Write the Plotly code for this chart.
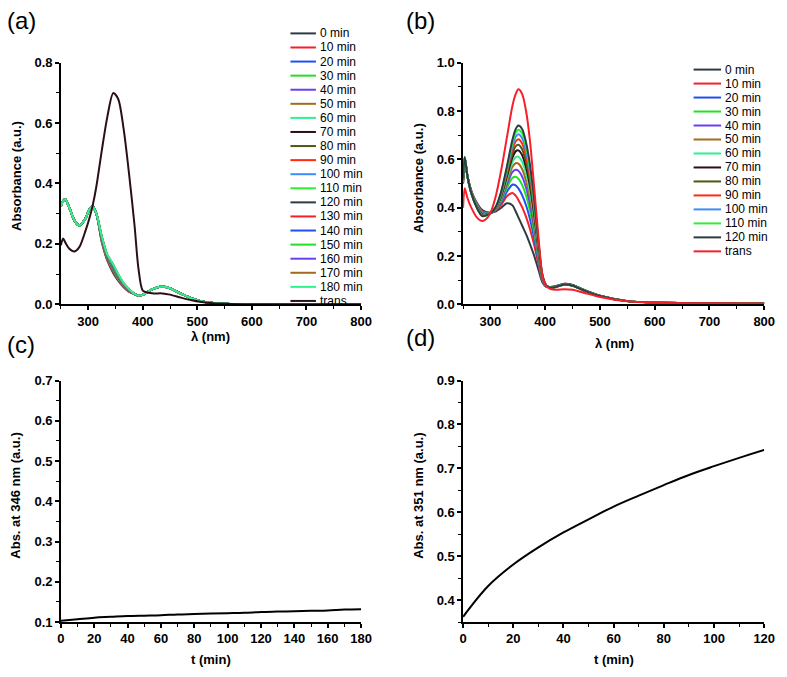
import plotly.graph_objects as go

W, H = 787, 677
FONT = "Liberation Sans, Arial, sans-serif"

# ---- panel (a): spectra during irradiation, 0-180 min ----
a_labels = ["0 min", "10 min", "20 min", "30 min", "40 min", "50 min", "60 min", "70 min",
            "80 min", "90 min", "100 min", "110 min", "120 min", "130 min", "140 min",
            "150 min", "160 min", "170 min", "180 min"]
a_wl = [250, 254, 258, 265, 275, 284, 295, 302, 308, 315, 325, 335, 346, 355, 365, 375,
        385, 392, 400, 410, 420, 436, 450, 470, 490, 505, 530, 560, 600, 700, 800]
# common part of the overlapping curves (250-315 nm and 385-800 nm)
a_head = [0.325, 0.342, 0.348, 0.322, 0.277, 0.261, 0.284, 0.313, 0.324, 0.300]
a_tail = [0.034, 0.029, 0.031, 0.042, 0.052, 0.059, 0.053, 0.035, 0.019, 0.011, 0.004,
          0.001, 0.0, 0.0, 0.0]
# 325-375 nm, where the curves separate slightly
a_mid = [
    [0.205, 0.145, 0.103, 0.078, 0.056, 0.041],
    [0.208, 0.148, 0.107, 0.081, 0.058, 0.042],
    [0.211, 0.151, 0.111, 0.084, 0.060, 0.044],
    [0.212, 0.152, 0.113, 0.085, 0.061, 0.044],
    [0.213, 0.153, 0.115, 0.087, 0.062, 0.045],
    [0.214, 0.154, 0.116, 0.088, 0.062, 0.045],
    [0.215, 0.155, 0.117, 0.089, 0.063, 0.045],
    [0.216, 0.156, 0.119, 0.090, 0.064, 0.046],
    [0.217, 0.157, 0.120, 0.091, 0.064, 0.046],
    [0.217, 0.157, 0.121, 0.092, 0.065, 0.047],
    [0.218, 0.158, 0.122, 0.093, 0.065, 0.047],
    [0.219, 0.159, 0.123, 0.093, 0.066, 0.047],
    [0.220, 0.160, 0.125, 0.095, 0.067, 0.048],
    [0.221, 0.161, 0.126, 0.095, 0.067, 0.048],
    [0.222, 0.162, 0.127, 0.096, 0.068, 0.048],
    [0.222, 0.162, 0.128, 0.097, 0.068, 0.049],
    [0.223, 0.163, 0.129, 0.098, 0.069, 0.049],
    [0.224, 0.164, 0.131, 0.099, 0.070, 0.050],
    [0.225, 0.165, 0.132, 0.100, 0.070, 0.050],
]
a_trans = [0.195, 0.218, 0.205, 0.185, 0.175, 0.190, 0.243, 0.283, 0.325, 0.390, 0.510,
           0.620, 0.700, 0.680, 0.580, 0.430, 0.260, 0.120, 0.045, 0.038, 0.036, 0.036,
           0.032, 0.022, 0.013, 0.008, 0.003, 0.001, 0.0, 0.0, 0.0]

# ---- panel (b): spectra during irradiation, 0-120 min ----
b_labels = ["0 min", "10 min", "20 min", "30 min", "40 min", "50 min", "60 min", "70 min",
            "80 min", "90 min", "100 min", "110 min", "120 min"]
b_wl = [250, 253, 258, 265, 275, 285, 295, 302, 310, 320, 330, 340, 346, 351, 358, 365,
        372, 380, 388, 395, 402, 410, 420, 435, 450, 470, 500, 550, 600, 700, 800]
b_abs = [
    [0.500, 0.600, 0.53, 0.470, 0.420, 0.390, 0.380, 0.38, 0.385, 0.400, 0.418, 0.410, 0.385, 0.360, 0.325, 0.290, 0.250, 0.200, 0.140, 0.090, 0.072, 0.072, 0.076, 0.085, 0.080, 0.060, 0.035, 0.013, 0.007, 0.004, 0.003],
    [0.500, 0.600, 0.53, 0.470, 0.416, 0.385, 0.380, 0.38, 0.389, 0.413, 0.447, 0.461, 0.450, 0.432, 0.401, 0.362, 0.313, 0.244, 0.161, 0.096, 0.073, 0.071, 0.075, 0.085, 0.080, 0.060, 0.035, 0.013, 0.007, 0.004, 0.003],
    [0.505, 0.600, 0.53, 0.468, 0.414, 0.382, 0.378, 0.38, 0.391, 0.422, 0.466, 0.495, 0.492, 0.480, 0.451, 0.410, 0.354, 0.272, 0.175, 0.099, 0.074, 0.071, 0.075, 0.084, 0.079, 0.060, 0.035, 0.013, 0.007, 0.004, 0.003],
    [0.505, 0.603, 0.53, 0.466, 0.412, 0.380, 0.376, 0.38, 0.393, 0.429, 0.482, 0.523, 0.528, 0.520, 0.493, 0.450, 0.389, 0.297, 0.186, 0.103, 0.075, 0.070, 0.074, 0.084, 0.079, 0.059, 0.035, 0.013, 0.007, 0.004, 0.003],
    [0.510, 0.605, 0.53, 0.465, 0.410, 0.377, 0.375, 0.38, 0.395, 0.435, 0.495, 0.547, 0.557, 0.553, 0.528, 0.483, 0.417, 0.317, 0.196, 0.105, 0.075, 0.070, 0.074, 0.084, 0.079, 0.059, 0.035, 0.013, 0.007, 0.004, 0.003],
    [0.510, 0.605, 0.53, 0.464, 0.408, 0.375, 0.374, 0.38, 0.397, 0.441, 0.507, 0.568, 0.584, 0.582, 0.559, 0.512, 0.443, 0.335, 0.204, 0.108, 0.076, 0.070, 0.073, 0.083, 0.078, 0.059, 0.034, 0.013, 0.007, 0.004, 0.003],
    [0.512, 0.607, 0.53, 0.463, 0.407, 0.374, 0.373, 0.38, 0.398, 0.446, 0.518, 0.588, 0.609, 0.611, 0.589, 0.541, 0.468, 0.352, 0.213, 0.110, 0.076, 0.069, 0.073, 0.083, 0.078, 0.059, 0.034, 0.013, 0.007, 0.004, 0.003],
    [0.514, 0.607, 0.53, 0.462, 0.405, 0.372, 0.372, 0.38, 0.400, 0.451, 0.529, 0.607, 0.633, 0.637, 0.617, 0.567, 0.491, 0.368, 0.220, 0.112, 0.077, 0.069, 0.073, 0.083, 0.078, 0.058, 0.034, 0.013, 0.007, 0.004, 0.003],
    [0.515, 0.608, 0.53, 0.462, 0.404, 0.370, 0.372, 0.38, 0.401, 0.455, 0.538, 0.623, 0.654, 0.660, 0.641, 0.590, 0.511, 0.382, 0.227, 0.114, 0.077, 0.069, 0.073, 0.083, 0.078, 0.058, 0.034, 0.013, 0.007, 0.004, 0.003],
    [0.516, 0.608, 0.53, 0.461, 0.403, 0.369, 0.371, 0.38, 0.402, 0.460, 0.547, 0.640, 0.674, 0.683, 0.665, 0.613, 0.531, 0.396, 0.234, 0.116, 0.077, 0.068, 0.072, 0.082, 0.077, 0.058, 0.034, 0.013, 0.007, 0.004, 0.003],
    [0.518, 0.609, 0.53, 0.461, 0.402, 0.367, 0.371, 0.38, 0.403, 0.463, 0.556, 0.654, 0.693, 0.704, 0.687, 0.634, 0.549, 0.408, 0.240, 0.117, 0.078, 0.068, 0.072, 0.082, 0.077, 0.058, 0.034, 0.013, 0.007, 0.004, 0.003],
    [0.519, 0.610, 0.53, 0.460, 0.401, 0.366, 0.370, 0.38, 0.404, 0.467, 0.563, 0.668, 0.710, 0.723, 0.707, 0.653, 0.565, 0.420, 0.245, 0.119, 0.078, 0.068, 0.072, 0.082, 0.077, 0.058, 0.034, 0.013, 0.007, 0.004, 0.003],
    [0.520, 0.610, 0.53, 0.460, 0.400, 0.365, 0.370, 0.38, 0.405, 0.470, 0.570, 0.680, 0.725, 0.740, 0.725, 0.670, 0.580, 0.430, 0.250, 0.120, 0.078, 0.068, 0.072, 0.082, 0.077, 0.058, 0.034, 0.013, 0.007, 0.004, 0.003],
]
b_trans = [0.40, 0.48, 0.44, 0.40, 0.36, 0.345, 0.36, 0.39, 0.45, 0.56, 0.69, 0.82, 0.87, 0.89,
           0.87, 0.80, 0.68, 0.48, 0.27, 0.12, 0.075, 0.063, 0.060, 0.062, 0.060, 0.048,
           0.030, 0.012, 0.006, 0.004, 0.003]

# ---- panels (c), (d): kinetics ----
c_t = [0, 10, 20, 30, 40, 50, 60, 70, 80, 90, 100, 110, 120, 130, 140, 150, 160, 170, 180]
c_abs = [0.103, 0.107, 0.111, 0.113, 0.115, 0.116, 0.117, 0.119, 0.120, 0.121, 0.122,
         0.123, 0.125, 0.126, 0.127, 0.128, 0.129, 0.131, 0.132]
d_t = [0, 10, 20, 30, 40, 50, 60, 70, 80, 90, 100, 110, 120]
d_abs = [0.362, 0.432, 0.481, 0.520, 0.554, 0.584, 0.613, 0.638, 0.662, 0.685, 0.705,
         0.724, 0.742]

palette = ["#2e3b44", "#f5202a", "#2050f0", "#22e022", "#6a3ff0", "#a26c1c",
           "#30f090", "#2a1016", "#4a5a10", "#ff2a10", "#3a8cff", "#30f030"]


def px(x, y):
    return x / W, 1 - y / H


fig = go.Figure()

for i, lab in enumerate(a_labels):
    fig.add_trace(go.Scatter(x=a_wl, y=a_head + a_mid[i] + a_tail, mode="lines",
                             line=dict(color=palette[i % 12], width=2, shape="spline", smoothing=0.8),
                             name=lab, xaxis="x", yaxis="y"))
fig.add_trace(go.Scatter(x=a_wl, y=a_trans, mode="lines",
                         line=dict(color=palette[len(a_labels) % 12], width=2, shape="spline", smoothing=0.8),
                         name="trans", xaxis="x", yaxis="y"))

for i, lab in enumerate(b_labels):
    fig.add_trace(go.Scatter(x=b_wl, y=b_abs[i], mode="lines",
                             line=dict(color=palette[i % 12], width=2, shape="spline", smoothing=0.8),
                             name=lab, xaxis="x2", yaxis="y2"))
fig.add_trace(go.Scatter(x=b_wl, y=b_trans, mode="lines",
                         line=dict(color=palette[len(b_labels) % 12], width=2, shape="spline", smoothing=0.8),
                         name="trans", xaxis="x2", yaxis="y2"))

fig.add_trace(go.Scatter(x=c_t, y=c_abs, mode="lines", line=dict(color="black", width=2, shape="spline"),
                         xaxis="x3", yaxis="y3"))
fig.add_trace(go.Scatter(x=d_t, y=d_abs, mode="lines", line=dict(color="black", width=2, shape="spline"),
                         xaxis="x4", yaxis="y4"))


def ax(dom, rng, dtick, minor, fmt=None, anchor=None):
    d = dict(domain=dom, range=rng, dtick=dtick, tick0=0, showline=True, linecolor="black",
             linewidth=1.5, ticks="outside", ticklen=4, tickwidth=1.5, tickcolor="black",
             showgrid=False, zeroline=False, anchor=anchor,
             tickfont=dict(family=FONT, size=13, color="black", weight="bold"),
             minor=dict(dtick=minor, ticks="outside", ticklen=3, tickwidth=1, tickcolor="black"))
    if fmt:
        d["tickformat"] = fmt
    return d


xl, xr = [58 / W, 364 / W], [468 / W, 775 / W]
yt, yb = [1 - 304 / H, 1 - 57 / H], [1 - 629 / H, 1 - 382 / H]

fig.update_layout(
    width=W, height=H, margin=dict(l=0, r=0, t=0, b=0),
    paper_bgcolor="white", plot_bgcolor="white", showlegend=False,
    xaxis=ax(xl, [250, 800], 100, 50, anchor="y"),
    yaxis=ax(yt, [0, 0.8], 0.2, 0.1, ".1f", anchor="x"),
    xaxis2=ax(xr, [250, 800], 100, 50, anchor="y2"),
    yaxis2=ax(yt, [0, 1.0], 0.2, 0.1, ".1f", anchor="x2"),
    xaxis3=ax(xl, [0, 180], 20, 10, anchor="y3"),
    yaxis3=ax(yb, [0.1, 0.7], 0.1, 0.05, ".1f", anchor="x3"),
    xaxis4=ax(xr, [0, 120], 20, 10, anchor="y4"),
    yaxis4=ax(yb, [0.35, 0.9], 0.1, 0.05, ".1f", anchor="x4"),
)

ann = []
shapes = []


def text(x, y, s, size=13, bold=True, angle=0, xanchor="center"):
    xp, yp = px(x, y)
    ann.append(dict(x=xp, y=yp, xref="paper", yref="paper", text=s, showarrow=False,
                    textangle=angle, xanchor=xanchor, yanchor="middle",
                    font=dict(family=FONT, size=size, color="black",
                              weight="bold" if bold else "normal")))


# panel letters
text(1, 14, "(a)", 24, False, xanchor="left")
text(408, 14, "(b)", 24, False, xanchor="left")
text(1, 345, "(c)", 24, False, xanchor="left")
text(408, 338, "(d)", 24, False, xanchor="left")

# axis titles
text(211, 337, "λ (nm)")
text(622, 344, "λ (nm)")
text(211, 667, "t (min)")
text(622, 667, "t (min)")
text(12, 173, "Absorbance (a.u.)", angle=-90)
text(422, 175, "Absorbance (a.u.)", angle=-90)
text(12, 500, "Abs. at 346 nm (a.u.)", angle=-90)
text(423, 500, "Abs. at 351 nm (a.u.)", angle=-90)


# hand-made legends (tighter row spacing than plotly's legend allows)
def legend(labels, x0, x1, xt, y0, dy):
    for i, lab in enumerate(labels):
        y = y0 + i * dy
        ax0, ay = px(x0, y)
        ax1, _ = px(x1, y)
        shapes.append(dict(type="line", xref="paper", yref="paper", x0=ax0, x1=ax1, y0=ay, y1=ay,
                           line=dict(color=palette[i % 12], width=2)))
        text(xt, y, lab, 12, False, xanchor="left")


legend(a_labels + ["trans"], 292, 318, 320, 27, 14.4)
legend(b_labels + ["trans"], 703, 731, 733, 64, 14.3)

fig.update_layout(annotations=ann, shapes=shapes)
fig.write_html("out.html", config={"displayModeBar": False},
               post_script="document.body.style.margin='0';")
